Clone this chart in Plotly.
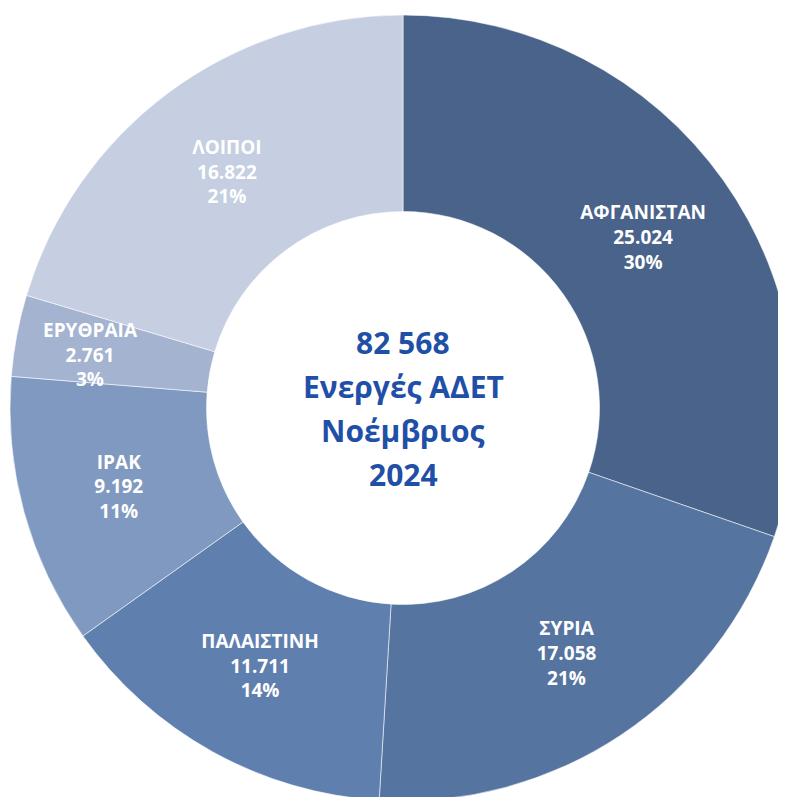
import plotly.graph_objects as go

countries = ["ΑΦΓΑΝΙΣΤΑΝ", "ΣΥΡΙΑ", "ΠΑΛΑΙΣΤΙΝΗ", "ΙΡΑΚ", "ΕΡΥΘΡΑΙΑ", "ΛΟΙΠΟΙ"]
active_cases = [25024, 17058, 11711, 9192, 2761, 16822]
pct_labels = ["30%", "21%", "14%", "11%", "3%", "21%"]
total_label = "82 568"
center_lines = ["Ενεργές ΑΔΕΤ", "Νοέμβριος", "2024"]

slice_colors = ["#49638a", "#55749f", "#5f80ae", "#7f99c0", "#a3b3d0", "#c5cfe1"]
label_font = dict(family="Open Sans", size=19, color="white")

# the thin Eritrea slice gets its label as an annotation, like the original
text_pos = ["none" if c == "ΕΡΥΘΡΑΙΑ" else "inside" for c in countries]

fig = go.Figure(go.Pie(
    labels=countries,
    values=active_cases,
    customdata=pct_labels,
    sort=False,
    direction="clockwise",
    rotation=0,
    hole=0.5,
    marker=dict(colors=slice_colors, line=dict(color="rgba(255,255,255,0.55)", width=1)),
    texttemplate="<b>%{label}</b><br><b>%{value:,}</b><br><b>%{customdata}</b>",
    textposition=text_pos,
    insidetextorientation="horizontal",
    textfont=label_font,
    showlegend=False,
    hoverinfo="label+value",
))

i = countries.index("ΕΡΥΘΡΑΙΑ")
eri_value = f"{active_cases[i]:,}".replace(",", ".")
fig.add_annotation(
    text=f"<b>{countries[i]}</b><br><b>{eri_value}</b><br><b>{pct_labels[i]}</b>",
    x=0.102, y=0.567, xref="paper", yref="paper",
    xanchor="center", yanchor="middle",
    showarrow=False, font=label_font,
)

# centre text, one line per annotation to get the wider line spacing
for k, line in enumerate([total_label] + center_lines):
    fig.add_annotation(
        text=f"<b>{line}</b>",
        x=0.5, y=0.5, xref="paper", yref="paper",
        xanchor="center", yanchor="middle",
        yshift=(1.5 - k) * 44,
        showarrow=False,
        font=dict(family="Open Sans", size=30, color="#1f4fa6"),
    )

fig.update_layout(
    width=788, height=797,
    margin=dict(l=2, r=0, t=3, b=0),
    separators=",.",
    uniformtext=dict(minsize=19, mode="show"),
    paper_bgcolor="white",
)

fig.write_html("out.html")
